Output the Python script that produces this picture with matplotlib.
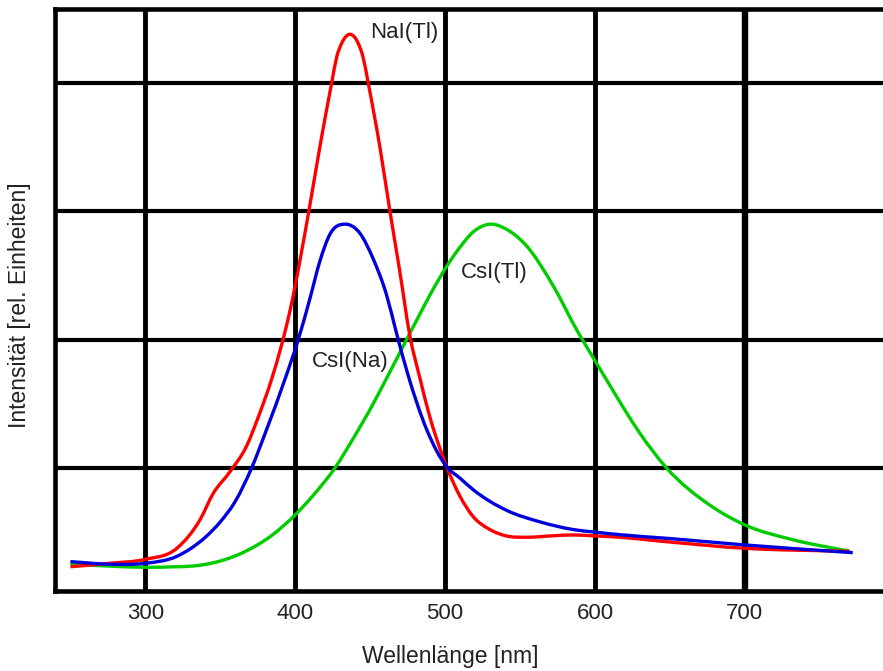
import matplotlib
matplotlib.use("Agg")
import matplotlib.pyplot as plt
from matplotlib.path import Path
from matplotlib.patches import PathPatch

plt.rcParams['font.family'] = ['Liberation Sans', 'DejaVu Sans']

# NaI(Tl) emission spectrum (wavelength nm, relative intensity)
nai_x = [250, 276, 300, 321, 336.4, 345.2, 356.4, 367.5, 376.4, 384.2, 396.4,
         409.8, 416.4, 424.3, 427.6, 431, 436.5, 442, 445.3, 448.7, 456.5, 463.2,
         469.8, 476.5, 483.2, 490, 496, 501, 509.9, 518.8, 529.9, 541, 554.4,
         570, 585.5, 600, 616.6, 643.4, 700, 770]
nai_y = [0.23, 0.257, 0.288, 0.374, 0.595, 0.80, 0.97, 1.17, 1.43, 1.69, 2.22,
         3.05, 3.50, 4.00, 4.20, 4.31, 4.38, 4.31, 4.20, 4.00, 3.50, 3.00,
         2.53, 2.03, 1.70, 1.39, 1.17, 1.01, 0.78, 0.62, 0.52, 0.47, 0.46,
         0.47, 0.478, 0.47, 0.46, 0.43, 0.374, 0.35]

# CsI(Na)
csna_x = [250, 276, 300, 320.8, 330, 340, 350, 360, 370.9, 380.9, 393.1, 402,
          409.8, 416.4, 423.1, 433.1, 443.1, 452, 460.9, 467.6, 475.4, 487.7,
          501, 510, 518.8, 541, 563.3, 585.5, 600, 616.6, 650, 700, 772]
csna_y = [0.27, 0.25, 0.257, 0.31, 0.37, 0.46, 0.58, 0.74, 1.00, 1.30, 1.69, 2.00,
          2.32, 2.61, 2.82, 2.90, 2.83, 2.63, 2.35, 2.05, 1.72, 1.30,
          1.01, 0.92, 0.83, 0.67, 0.58, 0.52, 0.50, 0.48, 0.45, 0.40, 0.34]

# CsI(Tl)
cstl_x = [250, 276, 300, 320, 331.9, 345, 365, 385, 400, 413, 426.5, 438.7,
          452, 461, 474.3, 483.2, 490, 501, 509.9, 518.8, 529.9, 541, 554.4,
          572.1, 588.6, 598.8, 612.2, 621.1, 630, 647.8, 676.7, 700, 732.3, 770]
cstl_y = [0.25, 0.235, 0.226, 0.23, 0.236, 0.26, 0.34, 0.48, 0.635, 0.80, 1.00,
          1.23, 1.50, 1.70, 2.00, 2.20, 2.35, 2.57, 2.72, 2.84, 2.90, 2.86,
          2.73, 2.42, 2.06, 1.86, 1.60, 1.43, 1.27, 1.00, 0.71, 0.556, 0.44, 0.35]

x_ticks = [300, 400, 500, 600, 700]
y_grid = [1, 2, 3, 4]

labels = ["NaI(Tl)", "CsI(Tl)", "CsI(Na)"]
label_pos = [(473, 4.39), (533, 2.52), (436.5, 1.83)]


def smooth_path(xs, ys):
    """Cubic Bezier path through the given points (Hermite tangents)."""
    n = len(xs)
    slopes = []
    for i in range(n):
        if i == 0:
            m = (ys[1] - ys[0]) / (xs[1] - xs[0])
        elif i == n - 1:
            m = (ys[-1] - ys[-2]) / (xs[-1] - xs[-2])
        else:
            h0 = xs[i] - xs[i - 1]
            h1 = xs[i + 1] - xs[i]
            d0 = (ys[i] - ys[i - 1]) / h0
            d1 = (ys[i + 1] - ys[i]) / h1
            m = (d0 * h1 + d1 * h0) / (h0 + h1)
        slopes.append(m)
    verts = [(xs[0], ys[0])]
    codes = [Path.MOVETO]
    for i in range(n - 1):
        h = xs[i + 1] - xs[i]
        verts += [(xs[i] + h / 3, ys[i] + slopes[i] * h / 3),
                  (xs[i + 1] - h / 3, ys[i + 1] - slopes[i + 1] * h / 3),
                  (xs[i + 1], ys[i + 1])]
        codes += [Path.CURVE4] * 3
    return Path(verts, codes)


W, H = 883, 671
fig = plt.figure(figsize=(W / 100, H / 100), dpi=100)
left, right, bottom, top = 55, 883, 590.5, 9
ax = fig.add_axes([left / W, 1 - bottom / H, (right - left) / W, (bottom - top) / H])

ax.set_xlim(239.7, 792.2)
ax.set_ylim(0.045, 4.577)

ax.set_xticks(x_ticks)
ax.set_yticks(y_grid)
ax.set_yticklabels([])
ax.tick_params(axis='both', length=0)
ax.tick_params(axis='x', labelsize=16, pad=9, labelcolor='#222222')

ax.grid(axis='x', color='black', linewidth=3.5, zorder=1)
ax.grid(axis='y', color='black', linewidth=3.0, zorder=1)
ax.set_axisbelow(True)
xg = ax.get_xgridlines()
xg[-1].set_linewidth(4.6)

for s in ['left', 'top', 'bottom']:
    ax.spines[s].set_linewidth(3.3)
    ax.spines[s].set_color('black')
ax.spines['right'].set_visible(False)

series = [(cstl_x, cstl_y, '#00cc00', 3),
          (nai_x, nai_y, '#ff0000', 4),
          (csna_x, csna_y, '#0000dd', 5)]
for xs, ys, col, z in series:
    patch = PathPatch(smooth_path(xs, ys), fill=False, edgecolor=col,
                      linewidth=2.4, joinstyle='round', capstyle='butt', zorder=z)
    ax.add_patch(patch)

for t, (lx, ly) in zip(labels, label_pos):
    ax.text(lx, ly, t, fontsize=16, color='#222222', ha='center', va='center', zorder=6)

fig.text(450 / W, 1 - 657 / H, "Wellenlänge [nm]", fontsize=16.5, color='#222222',
         ha='center', va='center')
fig.text(20 / W, 1 - 305 / H, "Intensität [rel. Einheiten]", fontsize=16.5,
         color='#222222', ha='center', va='center', rotation=90)

fig.savefig("out.png", dpi=100)
